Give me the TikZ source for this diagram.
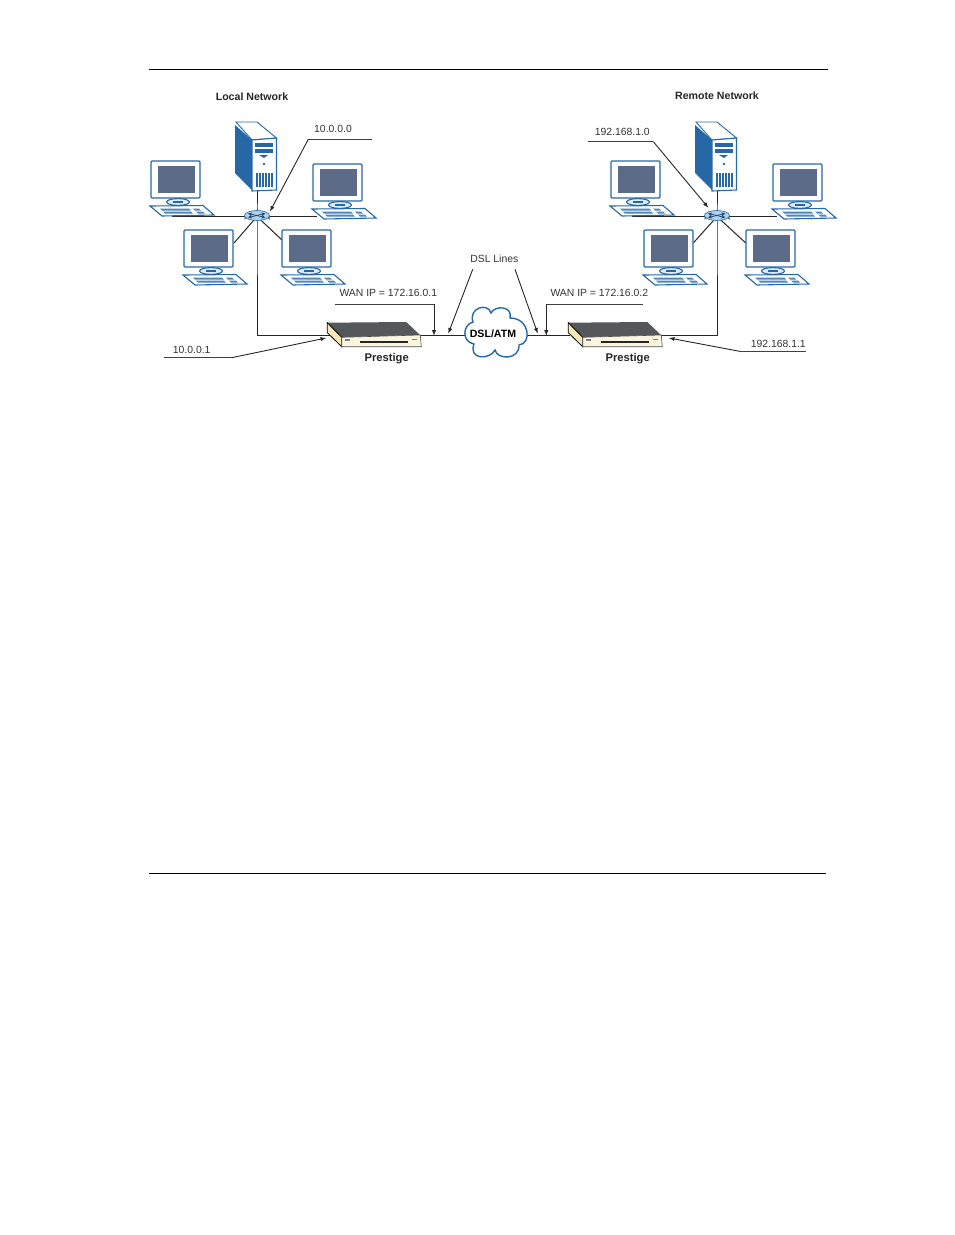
\documentclass[tikz,border=0pt]{standalone}
\usepackage{fontspec}
\setmainfont{Liberation Sans}
\usepackage{tikz}
\usetikzlibrary{positioning, arrows}
\usetikzlibrary{shapes.geometric}
\definecolor{netblue}{RGB}{38,104,166}
\definecolor{paleblue}{RGB}{222,236,248}
\definecolor{hubblue}{RGB}{176,208,236}
\definecolor{screengray}{RGB}{92,108,136}
\definecolor{lidgray}{RGB}{84,88,90}
\definecolor{cream}{RGB}{246,232,184}
\tikzset{
    wire/.style={line width=1pt,black!85},
    leader/.style={line width=0.8pt,black!75},
    pointer/.style={line width=0.9pt,black!85,-latex},
    caption/.style={font=\fontsize{10.4}{12}\selectfont,text=black!80,inner sep=0pt},
    heading/.style={font=\fontsize{10.6}{12}\selectfont\bfseries,text=black!85,inner sep=0pt},
    boxname/.style={font=\fontsize{11.2}{12}\selectfont\bfseries,text=black!85,inner sep=0pt},
    hubtop/.style={ellipse,draw=netblue,fill=hubblue,line width=0.6pt,minimum width=25pt,minimum height=10pt,inner sep=0pt},
    cloudtext/.style={inner sep=0pt,font=\fontsize{10.6}{12}\selectfont\bfseries},
    pc/.pic={
        \draw[netblue,fill=white,line width=1.1pt,rounded corners=1pt](0,0) rectangle (49,37);
        \fill[screengray](6.5,4.5) rectangle (44,32);
        \draw[netblue,fill=paleblue,line width=1.1pt](27,41) ellipse (11.5 and 3.4);
        \fill[netblue](22,39.5) rectangle (32,41.5);
        \draw[netblue,fill=white,line width=1.1pt](-1,45)--(52,44.5)--(63,54)--(11,55)--cycle;
        \fill[netblue!80](9,47.5)--(38,47.5)--(40,49.5)--(11,49.5)--cycle;
        \fill[netblue!80](12,50.5)--(40,50.5)--(42,52.5)--(14,52.5)--cycle;
        \fill[netblue!80](42,47.5)--(48,47.5)--(50,49.5)--(44,49.5)--cycle;
        \fill[netblue!80](45,50.5)--(52,50.5)--(54,52.5)--(47,52.5)--cycle;
    },
    tower/.pic={
        \fill[netblue](0,3)--(17,18)--(17,68)--(0,51)--cycle;
        \draw[netblue,fill=white,line width=0.9pt](1,0)--(22,0)--(41.5,16)--(17,18)--cycle;
        \draw[netblue,fill=white,line width=1.1pt](17,18)--(41.5,16)--(41.5,68)--(17,69)--cycle;
        \fill[netblue](20,20.5) rectangle (38,24.5);
        \fill[netblue](20,26.5) rectangle (38,30.5);
        \fill[netblue](24,33)--(33,33)--(29,36)--cycle;
        \fill[netblue](29,42) circle (1.3);
        \foreach \barx in {21,24,27,30,33,36}
            \fill[netblue](\barx,51) rectangle (\barx+1.6,65);
    },
    hubbase/.pic={
        \fill[netblue!85!black](-12.5,-1)--(-12.5,3) arc[start angle=180,end angle=360,x radius=12.5,y radius=3.5]--(12.5,-1)--cycle;
    },
    prestige/.pic={
        \fill[lidgray](0,0)--(79,-0.7)--(92.7,12.3)--(14.4,14.6)--cycle;
        \draw[black,fill=cream,line width=0.8pt](0,0)--(14.4,14.6)--(14.4,24)--(0,10)--cycle;
        \draw[black!70,fill=cream!45,line width=0.6pt](14.4,14.6)--(93,12.3)--(94,24)--(14.4,24)--cycle;
        \fill[black!85](33,18.2) rectangle (81,20);
        \fill[black!50](18,16.6) rectangle (23,18);
        \fill[black!50](85,16) rectangle (90,17.4);
    },
}
\begin{document}
\begin{tikzpicture}[x=1pt,y=-1pt]
    \useasboundingbox (0,0) rectangle (954,1235);
    % page rules
    \coordinate (ruletopA) at (149,69);
    \coordinate (ruletopB) at (828,69);
    \coordinate (rulebotA) at (149,873);
    \coordinate (rulebotB) at (826,873);
    \draw[line width=0.8pt,black](ruletopA)--(ruletopB);
    \draw[line width=0.8pt,black](rulebotA)--(rulebotB);

    % local network
    \node[heading] (localtitle) at (252,96.5) {Local Network};
    \coordinate (hubL) at (257,216.5);
    \coordinate (towerL) at (257,190);
    \coordinate (pcLa) at (172,216);
    \coordinate (pcLb) at (317,216);
    \coordinate (pcLc) at (234,243);
    \coordinate (pcLd) at (282,240);
    \coordinate (cornerL) at (257,335.7);
    \coordinate (boxL) at (330,335.7);
    \draw[wire](pcLa)--(pcLb);
    \draw[wire](pcLc)--(hubL);
    \draw[wire](pcLd)--(hubL);
    \draw[wire](towerL)--(hubL)--(cornerL)--(boxL);
    \pic at (151,161) {pc};
    \pic at (313,164) {pc};
    \pic at (184,230) {pc};
    \pic at (282,230) {pc};
    \pic at (235,122) {tower};
    \pic at (257,217) {hubbase};
    \node[hubtop] (hubtopL) at (257,215.5) {};
    \draw[netblue!60!black,line width=0.7pt,<->,>=stealth](hubtopL.west)++(4,-2)--++(17,4);
    \draw[netblue!60!black,line width=0.7pt,<->,>=stealth](hubtopL.west)++(4,2)--++(17,-4);

    % remote network
    \node[heading] (remotetitle) at (717,96) {Remote Network};
    \coordinate (hubR) at (717,216.5);
    \coordinate (towerR) at (717,190);
    \coordinate (pcRa) at (632,216);
    \coordinate (pcRb) at (777,216);
    \coordinate (pcRc) at (693.3,243);
    \coordinate (pcRd) at (745.7,243);
    \coordinate (cornerR) at (717,335.7);
    \coordinate (boxR) at (660,335.7);
    \draw[wire](pcRa)--(pcRb);
    \draw[wire](pcRc)--(hubR);
    \draw[wire](pcRd)--(hubR);
    \draw[wire](towerR)--(hubR)--(cornerR)--(boxR);
    \pic at (611,161) {pc};
    \pic at (773,164) {pc};
    \pic at (644,230) {pc};
    \pic at (746,230) {pc};
    \pic at (695,122) {tower};
    \pic at (717,217) {hubbase};
    \node[hubtop] (hubtopR) at (717,215.5) {};
    \draw[netblue!60!black,line width=0.7pt,<->,>=stealth](hubtopR.west)++(4,-2)--++(17,4);
    \draw[netblue!60!black,line width=0.7pt,<->,>=stealth](hubtopR.west)++(4,2)--++(17,-4);

    % DSL line and the two boxes
    \coordinate (boxLout) at (420,335.7);
    \coordinate (cloudW) at (466,335.7);
    \coordinate (cloudE) at (526,335.7);
    \coordinate (boxRin) at (570,335.7);
    \draw[wire](boxLout)--(cloudW);
    \draw[wire](cloudE)--(boxRin);
    \draw[netblue,fill=white,line width=1.4pt](473,322) .. controls (468,308) and (488,302) .. (491,313)
        .. controls (495,305) and (513,306) .. (510,318)
        .. controls (530,318) and (532,344) .. (519,345)
        .. controls (520,360) and (497,360) .. (495,350)
        .. controls (490,360) and (468,360) .. (474,344)
        .. controls (462,342) and (462,325) .. cycle;
    \node[cloudtext] (cloud) at (493,334) {DSL/ATM};
    \pic at (327.3,322.7) {prestige};
    \pic at (568.3,322.7) {prestige};
    \node[boxname] (prestigeL) at (386.7,359) {Prestige};
    \node[boxname] (prestigeR) at (627.7,359) {Prestige};

    % address labels
    \node[caption] (netL) at (333,129) {10.0.0.0};
    \coordinate (netLa) at (371.7,139.3);
    \coordinate (netLb) at (308.3,139.3);
    \coordinate (netLc) at (270,211.5);
    \draw[leader](netLa)--(netLb);
    \draw[pointer](netLb)--(netLc);

    \node[caption] (netR) at (622.3,131.5) {192.168.1.0};
    \coordinate (netRa) at (588.3,141.7);
    \coordinate (netRb) at (653.3,141.7);
    \coordinate (netRc) at (708.3,207.7);
    \draw[leader](netRa)--(netRb);
    \draw[pointer](netRb)--(netRc);

    \node[caption] (lanL) at (191.7,350) {10.0.0.1};
    \coordinate (lanLa) at (164,357.7);
    \coordinate (lanLb) at (231.7,357.7);
    \coordinate (lanLc) at (326,338);
    \draw[leader](lanLa)--(lanLb);
    \draw[pointer](lanLb)--(lanLc);

    \node[caption] (lanR) at (778.3,343.7) {192.168.1.1};
    \coordinate (lanRa) at (806,351.7);
    \coordinate (lanRb) at (741.7,351.7);
    \coordinate (lanRc) at (669,338);
    \draw[leader](lanRa)--(lanRb);
    \draw[pointer](lanRb)--(lanRc);

    \node[caption] (wanL) at (388.3,293.3) {WAN IP = 172.16.0.1};
    \coordinate (wanLa) at (335,304);
    \coordinate (wanLb) at (434,304);
    \coordinate (wanLc) at (434,335.7);
    \draw[leader](wanLa)--(wanLb);
    \draw[pointer](wanLb)--(wanLc);

    \node[caption] (wanR) at (599.3,293.3) {WAN IP = 172.16.0.2};
    \coordinate (wanRa) at (643.3,304.3);
    \coordinate (wanRb) at (546.3,304.3);
    \coordinate (wanRc) at (546.3,335.7);
    \draw[leader](wanRa)--(wanRb);
    \draw[pointer](wanRb)--(wanRc);

    \node[caption] (dsl) at (494.3,259) {DSL Lines};
    \coordinate (dslA) at (472.7,269.3);
    \coordinate (dslB) at (448.3,333.5);
    \coordinate (dslC) at (515,269.3);
    \coordinate (dslD) at (537.7,333.5);
    \draw[pointer](dslA)--(dslB);
    \draw[pointer](dslC)--(dslD);
\end{tikzpicture}
\end{document}
